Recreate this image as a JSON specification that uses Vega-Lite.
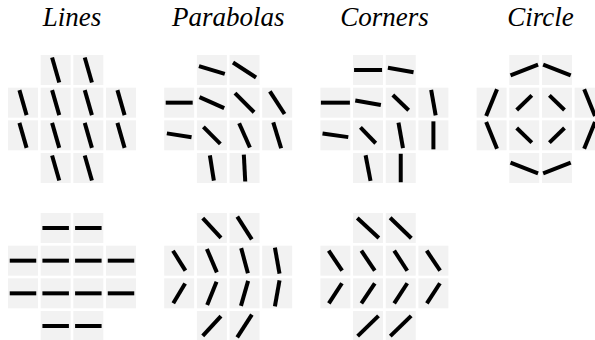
{
  "$schema": "https://vega.github.io/schema/vega-lite/v6.json",
  "padding": {"left": 1, "top": 4, "right": 0, "bottom": 0},
  "autosize": {"type": "pad"},
  "spacing": 17,
  "datasets": {"cells": [
    {"panel": "Lines", "set": 1, "r": 0, "c": 1, "angle": 74, "len": 26},
    {"panel": "Lines", "set": 1, "r": 0, "c": 2, "angle": 74, "len": 26},
    {"panel": "Lines", "set": 1, "r": 1, "c": 0, "angle": 74, "len": 26},
    {"panel": "Lines", "set": 1, "r": 1, "c": 1, "angle": 74, "len": 26},
    {"panel": "Lines", "set": 1, "r": 1, "c": 2, "angle": 74, "len": 26},
    {"panel": "Lines", "set": 1, "r": 1, "c": 3, "angle": 74, "len": 26},
    {"panel": "Lines", "set": 1, "r": 2, "c": 0, "angle": 74, "len": 26},
    {"panel": "Lines", "set": 1, "r": 2, "c": 1, "angle": 74, "len": 26},
    {"panel": "Lines", "set": 1, "r": 2, "c": 2, "angle": 74, "len": 26},
    {"panel": "Lines", "set": 1, "r": 2, "c": 3, "angle": 74, "len": 26},
    {"panel": "Lines", "set": 1, "r": 3, "c": 1, "angle": 74, "len": 26},
    {"panel": "Lines", "set": 1, "r": 3, "c": 2, "angle": 74, "len": 26},

    {"panel": "Parabolas", "set": 1, "r": 0, "c": 1, "angle": 17, "len": 27},
    {"panel": "Parabolas", "set": 1, "r": 0, "c": 2, "angle": 33, "len": 27.5},
    {"panel": "Parabolas", "set": 1, "r": 1, "c": 0, "angle": 0, "len": 27},
    {"panel": "Parabolas", "set": 1, "r": 1, "c": 1, "angle": 24, "len": 27},
    {"panel": "Parabolas", "set": 1, "r": 1, "c": 2, "angle": 45, "len": 27},
    {"panel": "Parabolas", "set": 1, "r": 1, "c": 3, "angle": 57, "len": 27},
    {"panel": "Parabolas", "set": 1, "r": 2, "c": 0, "angle": 9, "len": 25},
    {"panel": "Parabolas", "set": 1, "r": 2, "c": 1, "angle": 45, "len": 24},
    {"panel": "Parabolas", "set": 1, "r": 2, "c": 2, "angle": 66, "len": 26.5},
    {"panel": "Parabolas", "set": 1, "r": 2, "c": 3, "angle": 73, "len": 27},
    {"panel": "Parabolas", "set": 1, "r": 3, "c": 1, "angle": 81, "len": 25.5},
    {"panel": "Parabolas", "set": 1, "r": 3, "c": 2, "angle": 87, "len": 27},

    {"panel": "Corners", "set": 1, "r": 0, "c": 1, "angle": 0, "len": 28},
    {"panel": "Corners", "set": 1, "r": 0, "c": 2, "angle": 10, "len": 26},
    {"panel": "Corners", "set": 1, "r": 1, "c": 0, "angle": 0, "len": 29},
    {"panel": "Corners", "set": 1, "r": 1, "c": 1, "angle": 10, "len": 26},
    {"panel": "Corners", "set": 1, "r": 1, "c": 2, "angle": 44, "len": 22},
    {"panel": "Corners", "set": 1, "r": 1, "c": 3, "angle": 80, "len": 26},
    {"panel": "Corners", "set": 1, "r": 2, "c": 0, "angle": 8, "len": 26},
    {"panel": "Corners", "set": 1, "r": 2, "c": 1, "angle": 46, "len": 22},
    {"panel": "Corners", "set": 1, "r": 2, "c": 2, "angle": 80, "len": 26},
    {"panel": "Corners", "set": 1, "r": 2, "c": 3, "angle": 90, "len": 28},
    {"panel": "Corners", "set": 1, "r": 3, "c": 1, "angle": 79, "len": 26},
    {"panel": "Corners", "set": 1, "r": 3, "c": 2, "angle": 90, "len": 28.5},

    {"panel": "Circle", "set": 1, "r": 0, "c": 1, "angle": -21, "len": 29.5},
    {"panel": "Circle", "set": 1, "r": 0, "c": 2, "angle": 21, "len": 29.5},
    {"panel": "Circle", "set": 1, "r": 1, "c": 0, "angle": -68, "len": 29},
    {"panel": "Circle", "set": 1, "r": 1, "c": 1, "angle": -44, "len": 21},
    {"panel": "Circle", "set": 1, "r": 1, "c": 2, "angle": 44, "len": 21},
    {"panel": "Circle", "set": 1, "r": 1, "c": 3, "angle": 68, "len": 29},
    {"panel": "Circle", "set": 1, "r": 2, "c": 0, "angle": 68, "len": 29},
    {"panel": "Circle", "set": 1, "r": 2, "c": 1, "angle": 44, "len": 21},
    {"panel": "Circle", "set": 1, "r": 2, "c": 2, "angle": -44, "len": 21},
    {"panel": "Circle", "set": 1, "r": 2, "c": 3, "angle": -68, "len": 29},
    {"panel": "Circle", "set": 1, "r": 3, "c": 1, "angle": 21, "len": 29.5},
    {"panel": "Circle", "set": 1, "r": 3, "c": 2, "angle": -21, "len": 29.5},

    {"panel": "Lines", "set": 2, "r": 0, "c": 1, "angle": 0, "len": 26.5},
    {"panel": "Lines", "set": 2, "r": 0, "c": 2, "angle": 0, "len": 26.5},
    {"panel": "Lines", "set": 2, "r": 1, "c": 0, "angle": 0, "len": 26.5},
    {"panel": "Lines", "set": 2, "r": 1, "c": 1, "angle": 0, "len": 26.5},
    {"panel": "Lines", "set": 2, "r": 1, "c": 2, "angle": 0, "len": 26.5},
    {"panel": "Lines", "set": 2, "r": 1, "c": 3, "angle": 0, "len": 26.5},
    {"panel": "Lines", "set": 2, "r": 2, "c": 0, "angle": 0, "len": 26.5},
    {"panel": "Lines", "set": 2, "r": 2, "c": 1, "angle": 0, "len": 26.5},
    {"panel": "Lines", "set": 2, "r": 2, "c": 2, "angle": 0, "len": 26.5},
    {"panel": "Lines", "set": 2, "r": 2, "c": 3, "angle": 0, "len": 26.5},
    {"panel": "Lines", "set": 2, "r": 3, "c": 1, "angle": 0, "len": 26.5},
    {"panel": "Lines", "set": 2, "r": 3, "c": 2, "angle": 0, "len": 26.5},

    {"panel": "Parabolas", "set": 2, "r": 0, "c": 1, "angle": 47.5, "len": 27},
    {"panel": "Parabolas", "set": 2, "r": 0, "c": 2, "angle": 57.5, "len": 27},
    {"panel": "Parabolas", "set": 2, "r": 1, "c": 0, "angle": 58, "len": 23.5},
    {"panel": "Parabolas", "set": 2, "r": 1, "c": 1, "angle": 67, "len": 25.5},
    {"panel": "Parabolas", "set": 2, "r": 1, "c": 2, "angle": 75, "len": 26},
    {"panel": "Parabolas", "set": 2, "r": 1, "c": 3, "angle": 80, "len": 26.5},
    {"panel": "Parabolas", "set": 2, "r": 2, "c": 0, "angle": -59, "len": 23},
    {"panel": "Parabolas", "set": 2, "r": 2, "c": 1, "angle": -68, "len": 25},
    {"panel": "Parabolas", "set": 2, "r": 2, "c": 2, "angle": -74, "len": 26},
    {"panel": "Parabolas", "set": 2, "r": 2, "c": 3, "angle": -80, "len": 26.5},
    {"panel": "Parabolas", "set": 2, "r": 3, "c": 1, "angle": -47.5, "len": 27},
    {"panel": "Parabolas", "set": 2, "r": 3, "c": 2, "angle": -57, "len": 27},

    {"panel": "Corners", "set": 2, "r": 0, "c": 1, "angle": 43, "len": 29.5},
    {"panel": "Corners", "set": 2, "r": 0, "c": 2, "angle": 44, "len": 29.5},
    {"panel": "Corners", "set": 2, "r": 1, "c": 0, "angle": 56, "len": 24},
    {"panel": "Corners", "set": 2, "r": 1, "c": 1, "angle": 56, "len": 24},
    {"panel": "Corners", "set": 2, "r": 1, "c": 2, "angle": 57, "len": 24},
    {"panel": "Corners", "set": 2, "r": 1, "c": 3, "angle": 56, "len": 24},
    {"panel": "Corners", "set": 2, "r": 2, "c": 0, "angle": -57, "len": 24},
    {"panel": "Corners", "set": 2, "r": 2, "c": 1, "angle": -56, "len": 24},
    {"panel": "Corners", "set": 2, "r": 2, "c": 2, "angle": -57, "len": 24},
    {"panel": "Corners", "set": 2, "r": 2, "c": 3, "angle": -57, "len": 24},
    {"panel": "Corners", "set": 2, "r": 3, "c": 1, "angle": -44, "len": 29},
    {"panel": "Corners", "set": 2, "r": 3, "c": 2, "angle": -44, "len": 29}
  ]},
  "vconcat": [
    {
      "data": {"name": "cells"},
      "transform": [{"filter": "datum.set == 1"}],
      "bounds": "flush",
      "spacing": 28.2,
      "facet": {
        "column": {
          "field": "panel", "type": "nominal",
          "sort": ["Lines", "Parabolas", "Corners", "Circle"],
          "header": {
            "title": null,
            "labelFont": "Liberation Serif",
            "labelFontStyle": "italic",
            "labelFontSize": 27,
            "labelColor": "black",
            "labelBaseline": "alphabetic",
            "labelPadding": 2
          }
        }
      },
      "spec": {
        "width": 128,
        "height": 128,
        "encoding": {
          "x": {"field": "c", "type": "ordinal", "scale": {"domain": [0, 1, 2, 3], "paddingInner": 0.082, "paddingOuter": 0}, "axis": null},
          "y": {"field": "r", "type": "ordinal", "scale": {"domain": [0, 1, 2, 3], "paddingInner": 0.082, "paddingOuter": 0}, "axis": null}
        },
        "layer": [
          {"mark": {"type": "rect", "color": "#f2f2f2"}},
          {
            "mark": {"type": "point", "shape": "stroke", "filled": false, "strokeWidth": 4, "color": "black", "opacity": 1},
            "encoding": {
              "angle": {"field": "angle", "type": "quantitative", "scale": null},
              "size": {"field": "len", "type": "quantitative", "scale": {"type": "pow", "exponent": 2, "domain": [0, 30], "range": [0, 900]}, "legend": null}
            }
          }
        ]
      }
    },
    {
      "data": {"name": "cells"},
      "transform": [{"filter": "datum.set == 2"}],
      "bounds": "flush",
      "spacing": 28.2,
      "facet": {
        "column": {
          "field": "panel", "type": "nominal",
          "sort": ["Lines", "Parabolas", "Corners", "Circle"],
          "header": null
        }
      },
      "spec": {
        "width": 128,
        "height": 128,
        "encoding": {
          "x": {"field": "c", "type": "ordinal", "scale": {"domain": [0, 1, 2, 3], "paddingInner": 0.082, "paddingOuter": 0}, "axis": null},
          "y": {"field": "r", "type": "ordinal", "scale": {"domain": [0, 1, 2, 3], "paddingInner": 0.082, "paddingOuter": 0}, "axis": null}
        },
        "layer": [
          {"mark": {"type": "rect", "color": "#f2f2f2"}},
          {
            "mark": {"type": "point", "shape": "stroke", "filled": false, "strokeWidth": 4, "color": "black", "opacity": 1},
            "encoding": {
              "angle": {"field": "angle", "type": "quantitative", "scale": null},
              "size": {"field": "len", "type": "quantitative", "scale": {"type": "pow", "exponent": 2, "domain": [0, 30], "range": [0, 900]}, "legend": null}
            }
          }
        ]
      }
    }
  ],
  "config": {"view": {"stroke": null}}
}
